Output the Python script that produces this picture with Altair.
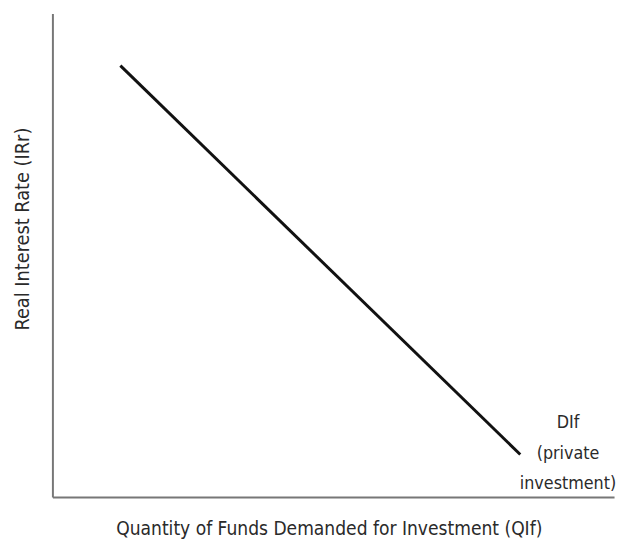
import altair as alt
import pandas as pd

# Demand curve endpoints (data units, 0-100 scale)
curve_x = [12.1, 83.3]
curve_y = [89.2, 8.8]

label_text = ["DIf", "(private", "investment)"]
label_x = [91.8]
label_y = [15.3]

x_title = "Quantity of Funds Demanded for Investment (QIf)"
y_title = "Real Interest Rate (IRr)"

FONT = "DejaVu Sans Condensed, Roboto, sans-serif"
TXT = "#2a2a2a"

line_df = pd.DataFrame({"x": curve_x, "y": curve_y})
label_df = pd.DataFrame({"x": label_x, "y": label_y, "t": ["\n".join(label_text)]})

xs = alt.Scale(domain=[0, 100])
ys = alt.Scale(domain=[0, 100])

line = alt.Chart(line_df).mark_line(color="#111111", strokeWidth=3).encode(
    x=alt.X("x:Q", scale=xs, title=x_title,
            axis=alt.Axis(labels=False, ticks=False, grid=False, domainColor="#777777",
                          domainWidth=2, titleFont=FONT, titleFontSize=19.3,
                          titleFontWeight="normal", titleColor=TXT,
                          titleX=280, titleY=32, titleAlign="center",
                          titleBaseline="middle")),
    y=alt.Y("y:Q", scale=ys, title=y_title,
            axis=alt.Axis(labels=False, ticks=False, grid=False, domainColor="#777777",
                          domainWidth=2, titleFont=FONT, titleFontSize=20,
                          titleFontWeight="normal", titleColor=TXT,
                          titleX=-30, titleY=218, titleAngle=270, titleAlign="center",
                          titleBaseline="middle")),
)

label = alt.Chart(label_df).mark_text(
    font=FONT, fontSize=18, color=TXT, lineBreak="\n", lineHeight=31,
    align="center", baseline="middle"
).encode(x=alt.X("x:Q", scale=xs), y=alt.Y("y:Q", scale=ys), text="t:N")

chart = alt.layer(line, label).properties(
    width=569, height=490,
    background="white",
    autosize=alt.AutoSizeParams(type="none"),
    padding={"left": 45, "top": 2, "right": 4, "bottom": 40},
).configure_view(stroke=None)

chart.save("out.html", embed_options={"renderer": "svg", "actions": False})
